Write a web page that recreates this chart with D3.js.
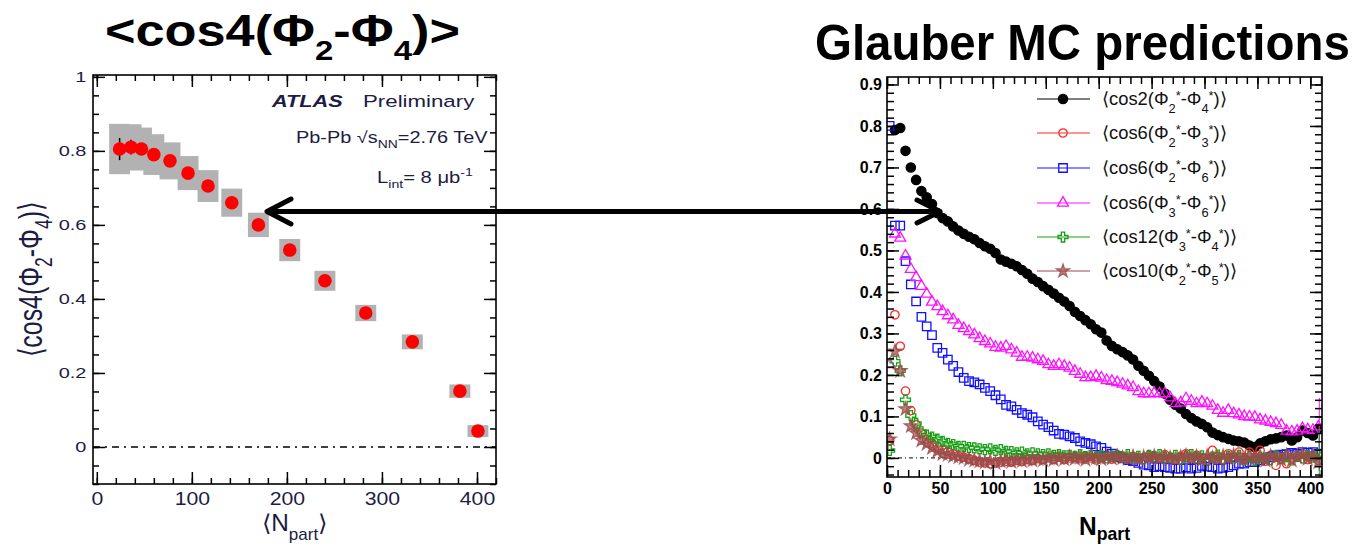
<!DOCTYPE html>
<html>
<head>
<meta charset="utf-8">
<script src="https://cdn.jsdelivr.net/npm/d3@7/dist/d3.min.js"></script>
<style>
  body { margin: 0; background: #fff; }
  svg { display: block; font-family: Arial, "Liberation Sans", Helvetica, sans-serif; }
</style>
</head>
<body>
<svg id="chart" width="1356" height="549"></svg>
<script>
// ============================ DATA : ATLAS measurement (left) ============================
const atlasNpart = [24, 36, 47, 60, 77, 96, 117, 142, 170, 203, 240, 283, 332, 382, 401];
const atlasValue = [0.805, 0.81, 0.805, 0.79, 0.773, 0.74, 0.705, 0.66, 0.60, 0.532, 0.449, 0.362, 0.284, 0.151, 0.043];
const atlasSys   = [0.068, 0.062, 0.058, 0.055, 0.05, 0.046, 0.043, 0.038, 0.033, 0.03, 0.027, 0.022, 0.02, 0.018, 0.016];
const atlasStat  = [0.03, 0.02, 0.016, 0.013, 0.011, 0.01, 0.009, 0.008, 0.008, 0.008, 0.008, 0.008, 0.008, 0.008, 0.01];
const atlasXTicks = [0, 100, 200, 300, 400];
const atlasYTicks = [0, 0.2, 0.4, 0.6, 0.8, 1];

// ============================ DATA : Glauber MC (right) ==================================
const glauberNpart = [2.5,7.5,12.5,17.5,22.5,27.5,32.5,37.5,42.5,47.5,52.5,57.5,62.5,67.5,72.5,77.5,82.5,87.5,92.5,97.5,
  102.5,107.5,112.5,117.5,122.5,127.5,132.5,137.5,142.5,147.5,152.5,157.5,162.5,167.5,172.5,177.5,182.5,187.5,192.5,197.5,
  202.5,207.5,212.5,217.5,222.5,227.5,232.5,237.5,242.5,247.5,252.5,257.5,262.5,267.5,272.5,277.5,282.5,287.5,292.5,297.5,
  302.5,307.5,312.5,317.5,322.5,327.5,332.5,337.5,342.5,347.5,352.5,357.5,362.5,367.5,372.5,377.5,382.5,387.5,392.5,397.5,
  402.5,407.5];
const cos2_24 = [null,0.79,0.795,0.74,0.70,0.67,0.643,0.628,0.612,0.59,0.578,0.57,0.558,0.548,0.54,0.533,0.527,0.518,0.51,0.504,
  0.494,0.478,0.473,0.468,0.462,0.453,0.444,0.432,0.424,0.414,0.405,0.396,0.386,0.377,0.366,0.352,0.342,0.332,0.322,0.31,
  0.302,0.283,0.27,0.262,0.255,0.247,0.237,0.222,0.21,0.198,0.185,0.172,0.155,0.14,0.128,0.119,0.106,0.096,0.088,0.082,
  0.074,0.061,0.055,0.05,0.046,0.042,0.04,0.037,0.03,0.026,0.035,0.04,0.045,0.047,0.05,0.054,0.042,0.05,0.066,0.06,
  0.054,0.07];
const cos6_23 = [0.042,0.345,0.269,0.161,0.114,0.08,0.06,0.045,0.035,0.028,0.02,0.015,0.01,0.005,0.002,-0.002,-0.006,-0.01,-0.012,-0.014,
  -0.012,-0.01,-0.008,-0.01,-0.006,-0.008,-0.004,-0.006,-0.002,-0.004,0.0,-0.003,0.002,-0.004,0.0,0.003,-0.002,0.004,0.0,-0.005,
  0.002,0.006,-0.003,0.001,0.004,-0.002,0.003,0.0,-0.004,0.006,0.002,-0.003,0.008,0.0,-0.006,0.004,0.01,-0.002,0.006,0.0,
  -0.008,0.018,0.004,-0.006,0.01,0.002,0.014,-0.004,0.014,0.0,0.018,-0.008,0.006,-0.018,0.004,-0.014,0.008,0.002,0.01,-0.004,
  0.006,-0.006];
const cos6_26 = [0.80,0.56,0.56,0.474,0.418,0.377,0.34,0.317,0.296,0.265,0.253,0.237,0.222,0.207,0.193,0.185,0.182,0.177,0.169,0.161,
  0.151,0.141,0.128,0.124,0.116,0.108,0.104,0.098,0.088,0.08,0.074,0.066,0.058,0.056,0.052,0.048,0.04,0.036,0.033,0.028,
  0.024,0.015,0.01,0.004,-0.001,-0.005,-0.008,-0.012,-0.016,-0.018,-0.022,-0.02,-0.022,-0.024,-0.026,-0.026,-0.023,-0.026,-0.024,-0.019,
  -0.021,-0.022,-0.026,-0.024,-0.022,-0.018,-0.014,-0.014,-0.01,-0.01,-0.006,-0.002,0.002,0.006,0.008,0.009,0.012,0.01,0.014,0.012,
  0.014,0.01];
const cos6_36 = [0.225,0.54,0.53,0.487,0.455,0.435,0.414,0.395,0.376,0.365,0.353,0.343,0.333,0.32,0.312,0.305,0.297,0.288,0.281,0.275,
  0.267,0.265,0.269,0.261,0.253,0.243,0.243,0.241,0.237,0.233,0.225,0.221,0.225,0.221,0.217,0.209,0.202,0.194,0.194,0.197,
  0.193,0.187,0.185,0.182,0.178,0.174,0.17,0.16,0.155,0.155,0.156,0.155,0.155,0.145,0.131,0.133,0.143,0.137,0.131,0.135,
  0.131,0.125,0.115,0.108,0.115,0.107,0.104,0.1,0.099,0.098,0.092,0.089,0.086,0.083,0.079,0.065,0.063,0.065,0.071,0.068,
  0.067,0.075];
const cos12_34 = [0.018,0.233,0.21,0.14,0.102,0.083,0.063,0.055,0.05,0.045,0.04,0.035,0.032,0.028,0.028,0.025,0.024,0.022,0.02,0.022,
  0.018,0.02,0.016,0.015,0.012,0.014,0.01,0.012,0.01,0.008,0.01,0.006,0.008,0.005,0.006,0.004,0.008,0.003,0.006,0.002,
  0.005,0.0,0.004,0.006,0.002,0.008,0.0,0.004,-0.002,0.006,0.003,0.008,0.002,0.0,0.006,-0.003,0.004,0.008,0.0,0.005,
  -0.004,0.002,0.007,-0.002,0.004,0.0,0.006,-0.004,0.003,-0.006,0.002,0.0,-0.004,0.005,-0.002,0.003,-0.005,0.004,0.0,0.006,
  0.002,0.008];
const cos10_25 = [0.045,0.257,0.21,0.118,0.077,0.06,0.042,0.034,0.024,0.016,0.01,0.008,0.004,0.002,0.0,-0.004,-0.006,-0.008,-0.01,-0.008,
  -0.012,-0.008,-0.006,-0.009,-0.005,-0.007,-0.004,-0.006,-0.002,-0.005,-0.001,-0.004,0.0,-0.003,0.002,-0.002,0.001,-0.004,0.003,0.0,
  -0.003,0.002,-0.001,0.004,0.0,-0.002,0.003,-0.004,0.002,0.0,0.004,-0.002,0.003,0.0,-0.004,0.002,0.005,-0.002,0.003,-0.005,
  0.004,0.0,-0.003,0.004,-0.002,0.006,0.0,-0.004,0.005,-0.002,0.003,-0.006,0.004,0.0,-0.004,0.006,-0.006,0.002,0.008,-0.002,
  0.004,-0.01];
// error on the last (most central) point, in series order
const glauberLastErr = [0, 0, 0.04, 0.07, 0.065, 0];
const glauberXTicks = [0, 50, 100, 150, 200, 250, 300, 350, 400];
const glauberYTicks = [0, 0.1, 0.2, 0.3, 0.4, 0.5, 0.6, 0.7, 0.8, 0.9];

const svg = d3.select("#chart");

// ---------- helpers ----------
// text made of pieces: [string, baseline shift (em), size factor]
function richText(parent, parts, size) {
  const t = parent.append("text").attr("font-size", size);
  let cur = 0;
  parts.forEach(p => {
    const shift = (p[1] || 0) * size;
    t.append("tspan").attr("dy", shift - cur).attr("font-size", size * (p[2] || 1)).text(p[0]);
    cur = shift;
  });
  return t;
}
// move a text to x,y and squeeze/stretch it to a given width
function place(t, x, y, w, rot, sy) {
  const bw = t.node().getBBox().width;
  const sx = w ? w / bw : 1;
  t.attr("transform", "translate(" + x + "," + y + ") rotate(" + (rot || 0) + ") scale(" + sx + "," + (sy || 1) + ")");
  return t;
}

function drawFrame(g, x, y, xMaj, xMin, yMaj, yMin, fmtX, fmtY, o) {
  const [x0, x1] = x.range(), [y0, y1] = y.range();
  const put = (axis, tr) => {
    const a = g.append("g").attr("transform", tr).call(axis);
    a.select(".domain").remove();
    a.attr("font-size", null).attr("font-family", null);
    a.selectAll("line").attr("stroke", "#000").attr("stroke-width", 1.5);
    return a;
  };
  put(d3.axisBottom(x).tickValues(xMin).tickSizeInner(-o.minor).tickSizeOuter(0).tickFormat(""), "translate(0," + y0 + ")");
  const bx = put(d3.axisBottom(x).tickValues(xMaj).tickSizeInner(-o.major).tickSizeOuter(0).tickPadding(o.padX).tickFormat(fmtX), "translate(0," + y0 + ")");
  put(d3.axisTop(x).tickValues(xMin).tickSizeInner(-o.minor).tickSizeOuter(0).tickFormat(""), "translate(0," + y1 + ")");
  put(d3.axisTop(x).tickValues(xMaj).tickSizeInner(-o.major).tickSizeOuter(0).tickFormat(""), "translate(0," + y1 + ")");
  put(d3.axisLeft(y).tickValues(yMin).tickSizeInner(-o.minor).tickSizeOuter(0).tickFormat(""), "translate(" + x0 + ",0)");
  const ly = put(d3.axisLeft(y).tickValues(yMaj).tickSizeInner(-o.major).tickSizeOuter(0).tickPadding(o.padY).tickFormat(fmtY), "translate(" + x0 + ",0)");
  put(d3.axisRight(y).tickValues(yMin).tickSizeInner(-o.minor).tickSizeOuter(0).tickFormat(""), "translate(" + x1 + ",0)");
  put(d3.axisRight(y).tickValues(yMaj).tickSizeInner(-o.major).tickSizeOuter(0).tickFormat(""), "translate(" + x1 + ",0)");
  g.append("rect").attr("x", x0).attr("y", y1).attr("width", x1 - x0).attr("height", y0 - y1)
    .attr("fill", "none").attr("stroke", "#000").attr("stroke-width", 1.6);
  bx.selectAll("text").attr("font-size", o.fsX).attr("font-weight", o.weight).attr("fill", o.color)
    .attr("transform", "scale(" + o.sxX + ",1)");
  ly.selectAll("text").attr("font-size", o.fsY).attr("font-weight", o.weight).attr("fill", o.color)
    .attr("transform", "scale(" + o.sxY + ",1)");
}

// ============================ LEFT PANEL ============================
const navy = "#1c1c44";
const xL = d3.scaleLinear().domain([-4, 420]).range([93, 496]);
const yL = d3.scaleLinear().domain([-0.1, 1.005]).range([484, 75]);
const gL = svg.append("g");
const fmtL = d => d === 0 ? "0" : (d === 1 ? "1" : d.toFixed(1));

gL.append("line").attr("x1", xL.range()[0]).attr("x2", xL.range()[1]).attr("y1", yL(0)).attr("y2", yL(0))
  .attr("stroke", "#000").attr("stroke-width", 1.4).attr("stroke-dasharray", "7,5,2,5");

const atlas = atlasNpart.map((n, i) => ({n: n, v: atlasValue[i], s: atlasSys[i], e: atlasStat[i]}));
gL.selectAll("rect.sys").data(atlas).enter().append("rect").attr("class", "sys")
  .attr("x", d => xL(d.n - 11)).attr("width", d => xL(d.n + 11) - xL(d.n - 11))
  .attr("y", d => yL(d.v + d.s)).attr("height", d => yL(d.v - d.s) - yL(d.v + d.s))
  .attr("fill", "#b2b2b2");
gL.selectAll("line.stat").data(atlas).enter().append("line").attr("class", "stat")
  .attr("x1", d => xL(d.n)).attr("x2", d => xL(d.n))
  .attr("y1", d => yL(d.v + d.e)).attr("y2", d => yL(d.v - d.e))
  .attr("stroke", "#000").attr("stroke-width", 1.5);
gL.selectAll("circle.pt").data(atlas).enter().append("circle").attr("class", "pt")
  .attr("cx", d => xL(d.n)).attr("cy", d => yL(d.v)).attr("r", 6.8).attr("fill", "#ff0000");

drawFrame(gL, xL, yL, atlasXTicks, d3.range(0, 421, 20), atlasYTicks, d3.range(-0.1, 1.001, 0.05).map(v => +v.toFixed(2)),
  d => String(d), fmtL,
  {major: 12, minor: 6, padX: 8, padY: 5, fsX: 18, fsY: 15, sxX: 1.18, sxY: 1.33, weight: "normal", color: navy});

// ATLAS labels
const atl = gL.append("text").attr("font-size", 17).attr("font-weight", "bold").attr("font-style", "italic").attr("fill", navy).text("ATLAS");
place(atl, 272, 107, 73);
const pre = gL.append("text").attr("font-size", 17).attr("fill", navy).text("Preliminary");
place(pre, 363, 107, 112);
const pb = richText(gL, [["Pb-Pb √s", 0], ["NN", 0.3, 0.7], ["=2.76 TeV", 0]], 16).attr("fill", navy);
place(pb, 296, 143, 192);
const lint = richText(gL, [["L", 0], ["int", 0.3, 0.7], ["= 8 μb", 0], ["-1", -0.45, 0.7]], 16).attr("fill", navy);
place(lint, 377, 183, 96);

// axis titles
const ylab = richText(gL, [["⟨cos4(Φ", 0], ["2", 0.3, 0.7], ["-Φ", 0], ["4", 0.3, 0.7], [")⟩", 0]], 22).attr("fill", navy);
place(ylab, 42, 357, 157, -90, 1.5);
const xlab = richText(gL, [["⟨N", 0], ["part", 0.38, 0.7], ["⟩", 0]], 23).attr("fill", navy);
place(xlab, 262, 531, 66);

// slide title
const titleL = richText(svg, [["<cos4(Φ", 0], ["2", 0.32, 0.63], ["-Φ", 0], ["4", 0.32, 0.63], [")>", 0]], 44)
  .attr("font-weight", "bold").attr("fill", "#000");
place(titleL, 105, 46, 355);

// ============================ RIGHT PANEL ============================
const xR = d3.scaleLinear().domain([0, 411]).range([887, 1322]);
const yR = d3.scaleLinear().domain([-0.046, 0.918]).range([477, 77]);
const gR = svg.append("g");

svg.append("clipPath").attr("id", "clipR").append("rect")
  .attr("x", 887).attr("y", 77).attr("width", 435).attr("height", 400);

const series = [
  {vals: cos2_24,  color: "#000000", type: d3.symbolCircle,   size: 68, filled: true,
   label: [["⟨cos2(Φ", 0], ["2", 0.42, 0.7], ["*", -0.3, 0.7], ["-Φ", 0], ["4", 0.42, 0.7], ["*", -0.3, 0.7], [")⟩", 0]], w: 125},
  {vals: cos6_23,  color: "#ff2a2a", type: d3.symbolCircle,   size: 56, filled: false,
   label: [["⟨cos6(Φ", 0], ["2", 0.42, 0.7], ["*", -0.3, 0.7], ["-Φ", 0], ["3", 0.42, 0.7], ["*", -0.3, 0.7], [")⟩", 0]], w: 125},
  {vals: cos6_26,  color: "#1010ff", type: d3.symbolSquare,   size: 72, filled: false,
   label: [["⟨cos6(Φ", 0], ["2", 0.42, 0.7], ["*", -0.3, 0.7], ["-Φ", 0], ["6", 0.42, 0.7], ["*", -0.3, 0.7], [")⟩", 0]], w: 125},
  {vals: cos6_36,  color: "#ff10ff", type: d3.symbolTriangle, size: 52, filled: false,
   label: [["⟨cos6(Φ", 0], ["3", 0.42, 0.7], ["*", -0.3, 0.7], ["-Φ", 0], ["6", 0.42, 0.7], ["*", -0.3, 0.7], [")⟩", 0]], w: 125},
  {vals: cos12_34, color: "#17a017", type: d3.symbolCross,    size: 55, filled: false,
   label: [["⟨cos12(Φ", 0], ["3", 0.42, 0.7], ["*", -0.3, 0.7], ["-Φ", 0], ["4", 0.42, 0.7], ["*", -0.3, 0.7], [")⟩", 0]], w: 135},
  {vals: cos10_25, color: "#9c4b4b", type: d3.symbolStar,     size: 55, filled: true,
   label: [["⟨cos10(Φ", 0], ["2", 0.42, 0.7], ["*", -0.3, 0.7], ["-Φ", 0], ["5", 0.42, 0.7], ["*", -0.3, 0.7], [")⟩", 0]], w: 135}
];

const plotR = gR.append("g").attr("clip-path", "url(#clipR)");
plotR.append("line").attr("x1", 887).attr("x2", 1322).attr("y1", yR(0)).attr("y2", yR(0))
  .attr("stroke", "#000").attr("stroke-width", 1).attr("stroke-dasharray", "4,3,1,3");

function styleMarker(sel, s) {
  sel.attr("fill", s.filled ? s.color : "none").attr("stroke", s.color).attr("stroke-width", 1.3)
    .attr("fill-opacity", s.type === d3.symbolStar ? 0.7 : 1)
    .attr("stroke-opacity", s.type === d3.symbolStar ? 0.8 : 1);
}

series.forEach((s, k) => {
  const pts = glauberNpart.map((n, i) => ({n: n, v: s.vals[i]})).filter(d => d.v !== null);
  const last = pts[pts.length - 1];
  if (glauberLastErr[k] > 0) {
    plotR.append("line").attr("x1", xR(last.n) + 1).attr("x2", xR(last.n) + 1)
      .attr("y1", yR(last.v + glauberLastErr[k])).attr("y2", yR(last.v - glauberLastErr[k]))
      .attr("stroke", s.color).attr("stroke-width", 1);
  }
  plotR.selectAll("path.s" + k).data(pts).enter().append("path").attr("class", "s" + k)
    .attr("d", d3.symbol().type(s.type).size(s.size))
    .attr("transform", d => "translate(" + xR(d.n) + "," + yR(d.v) + ")")
    .call(styleMarker, s);
});

drawFrame(gR, xR, yR, glauberXTicks, d3.range(0, 411, 10), glauberYTicks, d3.range(-0.04, 0.911, 0.02).map(v => +v.toFixed(2)),
  d => String(d), d => d === 0 ? "0" : d.toFixed(1),
  {major: 12, minor: 7, padX: 6, padY: 5, fsX: 16, fsY: 16, sxX: 1, sxY: 1, weight: "bold", color: "#000"});

// legend
const legY = [99, 133, 168, 203, 237, 271];
series.forEach((s, k) => {
  const g = gR.append("g");
  g.append("line").attr("x1", 1037).attr("x2", 1090).attr("y1", legY[k]).attr("y2", legY[k])
    .attr("stroke", s.color).attr("stroke-width", 1.2);
  g.append("path").attr("d", d3.symbol().type(s.type).size(s.size))
    .attr("transform", "translate(1063," + legY[k] + ")").call(styleMarker, s);
  const t = richText(g, s.label, 18).attr("fill", "#111");
  place(t, 1102, legY[k] + 6, s.w);
});

// x title
const xRlab = richText(gR, [["N", 0], ["part", 0.2, 0.72]], 26).attr("font-weight", "bold").attr("fill", "#000");
place(xRlab, 1079, 535, 51);

// slide title
const titleR = svg.append("text").attr("font-size", 50).attr("font-weight", "bold").attr("fill", "#000").text("Glauber MC predictions");
place(titleR, 815, 60, 535);

// ============================ ARROW ============================
const arrow = svg.append("g").attr("stroke", "#000").attr("stroke-width", 5).attr("fill", "none")
  .attr("stroke-linecap", "round").attr("stroke-linejoin", "round");
arrow.append("line").attr("x1", 268).attr("x2", 938).attr("y1", 211.5).attr("y2", 211.5);
arrow.append("polyline").attr("points", "291,199 267,211.5 291,224");
arrow.append("polyline").attr("points", "917,200 940,211.5 917,223");
</script>
</body>
</html>
